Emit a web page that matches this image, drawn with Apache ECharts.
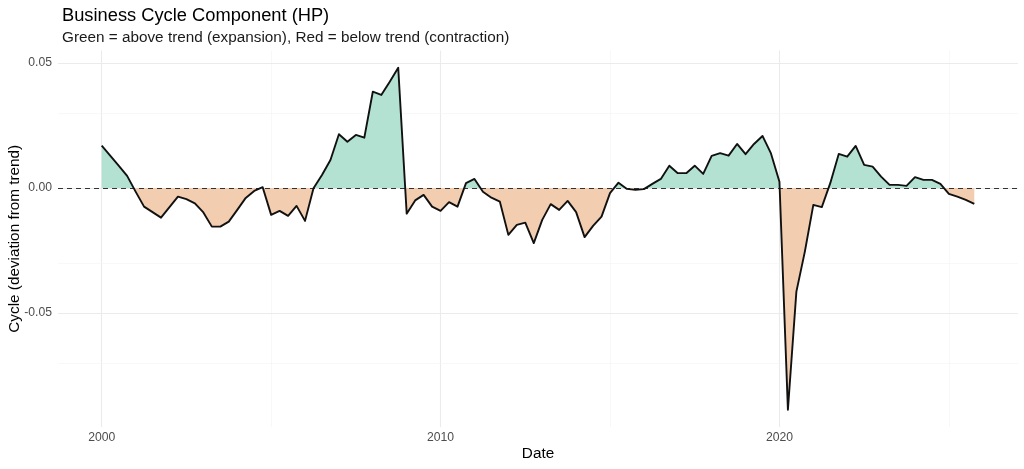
<!DOCTYPE html>
<html>
<head>
<meta charset="utf-8">
<script src="https://cdn.jsdelivr.net/npm/echarts@6/dist/echarts.min.js"></script>
<style>
  html, body { margin: 0; padding: 0; background: #fff; }
  #chart { width: 1024px; height: 469px; }
</style>
</head>
<body>
<div id="chart"></div>
<script>
// quarterly series, first quarter is 2000 Q1
var startYear = 2000;
var cycle = [
  0.0169, 0.0129, 0.0089, 0.0048,     // 2000
  -0.0015, -0.0075, -0.0097, -0.0119, // 2001
  -0.0077, -0.0035, -0.0045, -0.0062, // 2002
  -0.0098, -0.0155, -0.0155, -0.0135, // 2003
  -0.0088, -0.0040, -0.0012, 0.0003,  // 2004
  -0.0108, -0.0092, -0.0112, -0.0072, // 2005
  -0.0132, -0.0001, 0.0052, 0.0112,   // 2006
  0.0215, 0.0185, 0.0212, 0.0201,     // 2007
  0.0385, 0.0372, 0.0425, 0.0481,     // 2008
  -0.0103, -0.0050, -0.0028, -0.0075, // 2009
  -0.0092, -0.0057, -0.0075, 0.0019,  // 2010
  0.0036, -0.0015, -0.0039, -0.0055,  // 2011
  -0.0188, -0.0148, -0.0139, -0.0221, // 2012
  -0.0128, -0.0065, -0.0088, -0.0052, // 2013
  -0.0097, -0.0197, -0.0152, -0.0115, // 2014
  -0.0021, 0.0021, -0.0004, -0.0008,  // 2015
  -0.0005, 0.0016, 0.0036, 0.0089,    // 2016
  0.0059, 0.0059, 0.0089, 0.0056,     // 2017
  0.0128, 0.0139, 0.0129, 0.0176,     // 2018
  0.0135, 0.0176, 0.0208, 0.0138,     // 2019
  0.0025, -0.0888, -0.0415, -0.0255,  // 2020
  -0.0068, -0.0077, 0.0019, 0.0136,   // 2021
  0.0125, 0.0168, 0.0092, 0.0085,     // 2022
  0.0045, 0.0012, 0.0012, 0.0008,     // 2023
  0.0043, 0.0032, 0.0032, 0.0016,     // 2024
  -0.0024, -0.0035, -0.0048, -0.0064  // 2025
];
var xTicks = [2000, 2010, 2020];
var xMinor = [2005, 2015, 2025];
var yTicks = [-0.05, 0, 0.05];
var yMinor = [-0.075, -0.025, 0.025];

var font = 'Liberation Sans, Arial, sans-serif';

// date of each quarter as decimal year
var points = [];
for (var i = 0; i < cycle.length; i++) {
  points.push([startYear + i / 4, cycle[i]]);
}

var major = { color: '#ebebeb', width: 1.1, type: 'solid' };
var minor = { color: '#f4f4f4', width: 0.6, type: 'solid' };
var gridLines = [];
xTicks.forEach(function (v) { gridLines.push({ xAxis: v, lineStyle: major }); });
xMinor.forEach(function (v) { gridLines.push({ xAxis: v, lineStyle: minor }); });
yTicks.forEach(function (v) { gridLines.push({ yAxis: v, lineStyle: major }); });
yMinor.forEach(function (v) { gridLines.push({ yAxis: v, lineStyle: minor }); });

var chart = echarts.init(document.getElementById('chart'), null, { renderer: 'canvas' });
chart.setOption({
  backgroundColor: '#fff',
  animation: false,
  title: [
    { text: 'Business Cycle Component (HP)', left: 57, top: 2,
      textStyle: { fontFamily: font, fontSize: 18.3, fontWeight: 'normal', color: '#000' } },
    { text: 'Green = above trend (expansion), Red = below trend (contraction)', left: 57, top: 25,
      textStyle: { fontFamily: font, fontSize: 15.3, fontWeight: 'normal', color: '#1a1a1a' } }
  ],
  grid: { left: 58, right: 6, top: 50.5, bottom: 42, outerBoundsMode: 'none', containLabel: false },
  xAxis: {
    type: 'value',
    min: 1998.71,
    max: 2027.04,
    name: 'Date',
    nameLocation: 'middle',
    nameGap: 19,
    nameMoveOverlap: false,
    nameTextStyle: { fontFamily: font, fontSize: 15.3, color: '#000' },
    axisLine: { show: false },
    axisTick: { show: false, customValues: xTicks },
    splitLine: { show: false },
    axisLabel: { customValues: xTicks, fontFamily: font, fontSize: 12.2, color: '#4d4d4d', margin: 5,
      formatter: function (v) { return String(v); } }
  },
  yAxis: {
    type: 'value',
    min: -0.0957,
    max: 0.055,
    name: 'Cycle (deviation from trend)',
    nameLocation: 'middle',
    nameGap: 36,
    nameMoveOverlap: false,
    nameTextStyle: { fontFamily: font, fontSize: 15.3, color: '#000' },
    axisLine: { show: false },
    axisTick: { show: false, customValues: yTicks },
    splitLine: { show: false },
    axisLabel: { customValues: yTicks, fontFamily: font, fontSize: 12.2, color: '#4d4d4d', margin: 6,
      formatter: function (v) { return v.toFixed(2); } }
  },
  visualMap: {
    show: false,
    type: 'piecewise',
    seriesIndex: 1,
    dimension: 1,
    pieces: [
      { gte: -1, lt: 0, color: '#f2cdb0' },
      { gte: 0, lte: 1, color: '#b3e2d3' }
    ]
  },
  series: [
    {
      // panel grid lines
      type: 'line',
      data: [],
      z: 0,
      silent: true,
      markLine: { silent: true, z: 0, symbol: 'none', label: { show: false }, data: gridLines }
    },
    {
      // shaded area above / below zero
      type: 'line',
      data: points,
      z: 2,
      showSymbol: false,
      lineStyle: { width: 0, opacity: 0 },
      areaStyle: { opacity: 1, origin: 0 }
    },
    {
      type: 'line',
      data: points,
      z: 4,
      showSymbol: false,
      lineStyle: { color: '#111', width: 1.9, join: 'round' },
      markLine: {
        silent: true,
        z: 3,
        symbol: 'none',
        label: { show: false },
        lineStyle: { color: '#333', width: 1, type: [5, 4] },
        data: [{ yAxis: 0 }]
      }
    }
  ]
});
</script>
</body>
</html>
